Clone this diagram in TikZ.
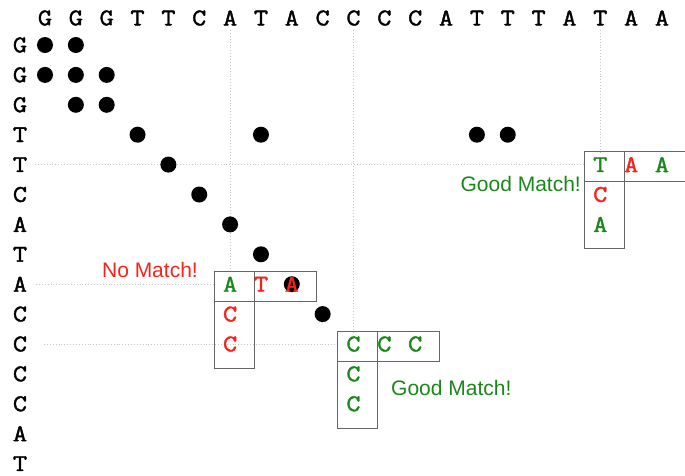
\documentclass[tikz,border=0pt]{standalone}
\usepackage{fontspec}
\setmainfont{Liberation Sans}
\newfontfamily\seqfont{Latin Modern Mono}[FakeBold=1.6,FakeStretch=1.15]
\definecolor{hitred}{RGB}{245,35,25}
\definecolor{hitgreen}{RGB}{25,135,25}
% grid helpers: column i and row j of the dot plot
\newcommand*\gx[1]{(45+30.85*(#1))}
\newcommand*\gy[1]{(45+29.9*(#1))}
\begin{document}
\begin{tikzpicture}[x=1pt,y=-1pt,
  base/.style={inner sep=0pt, font=\seqfont\bfseries\fontsize{24}{24}\selectfont},
  dot/.style={circle, fill=black, minimum size=16pt, inner sep=0pt},
  guide/.style={draw=gray!45, dotted, line width=0.9pt},
  frame/.style={draw=black!60, line width=1pt},
  tag/.style={font=\fontsize{21}{21}\selectfont, inner sep=0pt}]
\useasboundingbox (0,0) rectangle (685,475);

% sequence along the top
\foreach \b [count=\i from 0] in {G,G,G,T,T,C,A,T,A,C,C,C,C,A,T,T,T,A,T,A,A}
  \node[base] (c\i) at ({\gx{\i}},18) {\b};
% sequence down the side
\foreach \b [count=\j from 0] in {G,G,G,T,T,C,A,T,A,C,C,C,C,A,T}
  \node[base] (r\j) at (20,{\gy{\j}}) {\b};

% guide lines
\coordinate (v6a) at ({\gx{6}},30);   \coordinate (v6b) at ({\gx{6}},270);
\coordinate (v10a) at ({\gx{10}},30); \coordinate (v10b) at ({\gx{10}},332);
\coordinate (v18a) at ({\gx{18}},30); \coordinate (v18b) at ({\gx{18}},152);
\coordinate (h4a) at (35,{\gy{4}});   \coordinate (h4b) at (586,{\gy{4}});
\coordinate (h8a) at (36,{\gy{8}});   \coordinate (h8b) at (213,{\gy{8}});
\coordinate (h10a) at (44,{\gy{10}}); \coordinate (h10b) at (338,{\gy{10}});
\draw[guide] (v6a) -- (v6b);
\draw[guide] (v10a) -- (v10b);
\draw[guide] (v18a) -- (v18b);
\draw[guide] (h4a) -- (h4b);
\draw[guide] (h8a) -- (h8b);
\draw[guide] (h10a) -- (h10b);

% matches
\foreach \i/\j in {0/0,1/0,0/1,1/1,2/1,1/2,2/2,3/3,7/3,14/3,15/3,4/4,5/5,6/6,7/7,8/8,9/9}
  \node[dot] (d\i-\j) at ({\gx{\i}},{\gy{\j}}) {};

% word frames: a row of three and a column of three sharing the first cell
\foreach \i/\j in {6/8,10/10,18/4}{
  \draw[frame] ({\gx{\i}-16},{\gy{\j}-13}) rectangle ({\gx{\i}+86},{\gy{\j}+17});
  \draw[frame] ({\gx{\i}-16},{\gy{\j}-13}) rectangle ({\gx{\i}+24},{\gy{\j}+84});
}

% framed letters
\foreach \i/\j/\b/\c in {6/8/A/hitgreen,7/8/T/hitred,8/8/A/hitred,6/9/C/hitred,6/10/C/hitred,
  10/10/C/hitgreen,11/10/C/hitgreen,12/10/C/hitgreen,10/11/C/hitgreen,10/12/C/hitgreen,
  18/4/T/hitgreen,19/4/A/hitred,20/4/A/hitgreen,18/5/C/hitred,18/6/A/hitgreen}
  \node[base, text=\c] (w\i-\j) at ({\gx{\i}},{\gy{\j}}) {\b};

% captions
\node[tag, text=hitred, anchor=east] (nomatch) at (198,270) {No Match!};
\node[tag, text=hitgreen, anchor=east] (good1) at (581,184) {Good Match!};
\node[tag, text=hitgreen, anchor=west] (good2) at (391,388) {Good Match!};
\end{tikzpicture}
\end{document}
